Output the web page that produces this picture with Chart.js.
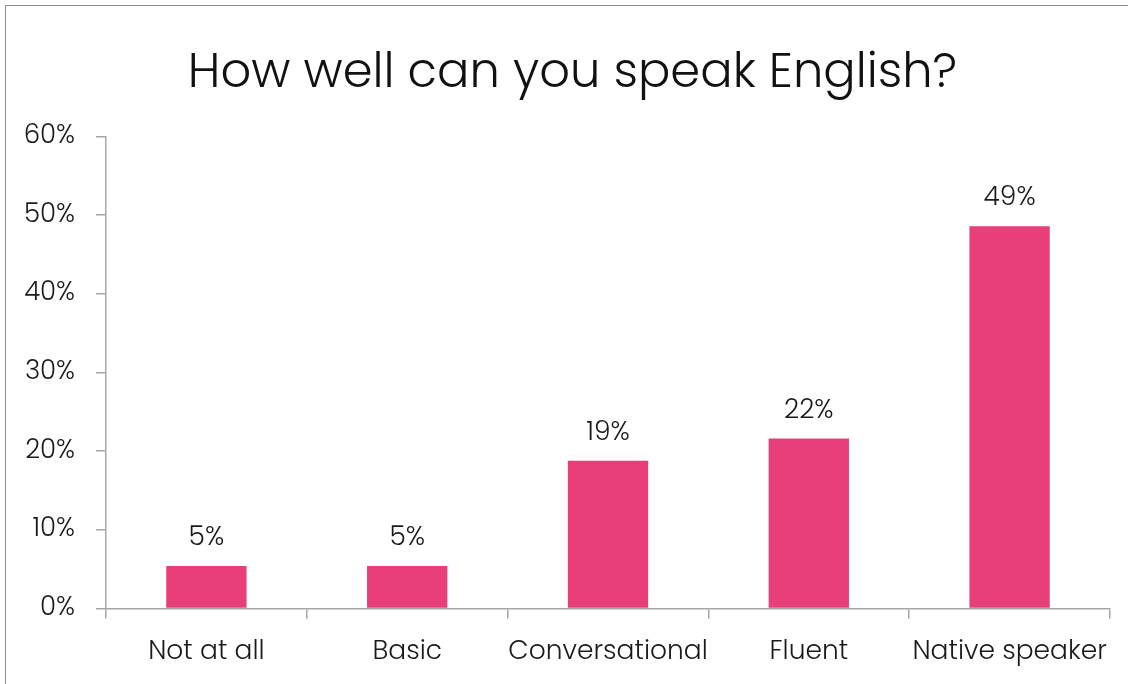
<!DOCTYPE html>
<html>
<head>
<meta charset="utf-8">
<script src="https://cdn.jsdelivr.net/npm/chart.js@4"></script>
<style>
  body { margin: 0; background: #fff; overflow: hidden; }
  #frame {
    position: absolute; left: 5px; top: 5px;
    width: 1140px; height: 700px;
    border: 1.5px solid #8f8f8f;
  }
  #wrap { position: absolute; left: 0; top: 0; width: 1128px; height: 684px; }
</style>
</head>
<body>
<div id="frame"></div>
<div id="wrap"><canvas id="speakChart"></canvas></div>
<script>
// 英語力アンケート結果
const categories = ['Not at all', 'Basic', 'Conversational', 'Fluent', 'Native speaker'];
const shares = [5.4, 5.4, 18.8, 21.6, 48.6]; // %
const yTicks = [0, 10, 20, 30, 40, 50, 60];

const FONT = 'Poppins, Lato, "Open Sans", sans-serif';
const AXIS_COLOR = '#a6a6a6';
const LABEL_SIZE = 26.5;

// 棒の上に値ラベルを描くプラグイン
const valueLabels = {
  id: 'valueLabels',
  afterDatasetsDraw(chart) {
    const ctx = chart.ctx;
    const meta = chart.getDatasetMeta(0);
    ctx.save();
    ctx.font = '300 ' + LABEL_SIZE + 'px ' + FONT;
    ctx.fillStyle = '#1a1a1a';
    ctx.textAlign = 'center';
    ctx.textBaseline = 'alphabetic';
    meta.data.forEach((bar, i) => {
      const v = chart.data.datasets[0].data[i];
      ctx.fillText(Math.round(v) + '%', bar.x, bar.y - 21);
    });
    ctx.restore();
  }
};

// タイトルを少し右寄せ（Y軸の幅の分だけ中心をずらす）
const titleShift = {
  id: 'titleShift',
  afterLayout(chart) {
    if (chart.titleBlock) chart.titleBlock.left += 35;
  }
};

new Chart(document.getElementById('speakChart'), {
  type: 'bar',
  data: {
    labels: categories,
    datasets: [{
      data: shares,
      backgroundColor: '#e83e7a',
      borderWidth: 0,
      barPercentage: 0.4,
      categoryPercentage: 1.0
    }]
  },
  options: {
    responsive: true,
    maintainAspectRatio: false,
    animation: false,
    layout: {
      padding: { left: 0, right: 18, top: 46, bottom: 0 }
    },
    plugins: {
      legend: { display: false },
      tooltip: { enabled: false },
      title: {
        display: true,
        text: 'How well can you speak English?',
        color: '#111',
        font: { family: FONT, size: 48, weight: '300' },
        padding: { top: 0, bottom: 33 }
      }
    },
    scales: {
      x: {
        afterFit(scale) { scale.height = 75.5; },
        grid: {
          display: true,
          drawOnChartArea: false,
          drawTicks: true,
          tickLength: 10,
          color: AXIS_COLOR,
          lineWidth: 1.5,
          offset: true
        },
        border: { color: AXIS_COLOR, width: 1.5 },
        ticks: {
          color: '#1a1a1a',
          font: { family: FONT, size: LABEL_SIZE, weight: '300' },
          padding: 17.5,
          maxRotation: 0,
          autoSkip: false
        }
      },
      y: {
        min: 0,
        max: 60,
        afterFit(scale) { scale.width = 106; },
        afterBuildTicks(scale) { scale.ticks = yTicks.map(v => ({ value: v })); },
        grid: {
          display: true,
          drawOnChartArea: false,
          drawTicks: true,
          tickLength: 10,
          color: AXIS_COLOR,
          lineWidth: 1.5
        },
        border: { color: AXIS_COLOR, width: 1.5 },
        ticks: {
          color: '#1a1a1a',
          font: { family: FONT, size: 26, weight: '300' },
          padding: 21,
          callback: v => v + '%'
        }
      }
    }
  },
  plugins: [valueLabels, titleShift]
});
</script>
</body>
</html>
